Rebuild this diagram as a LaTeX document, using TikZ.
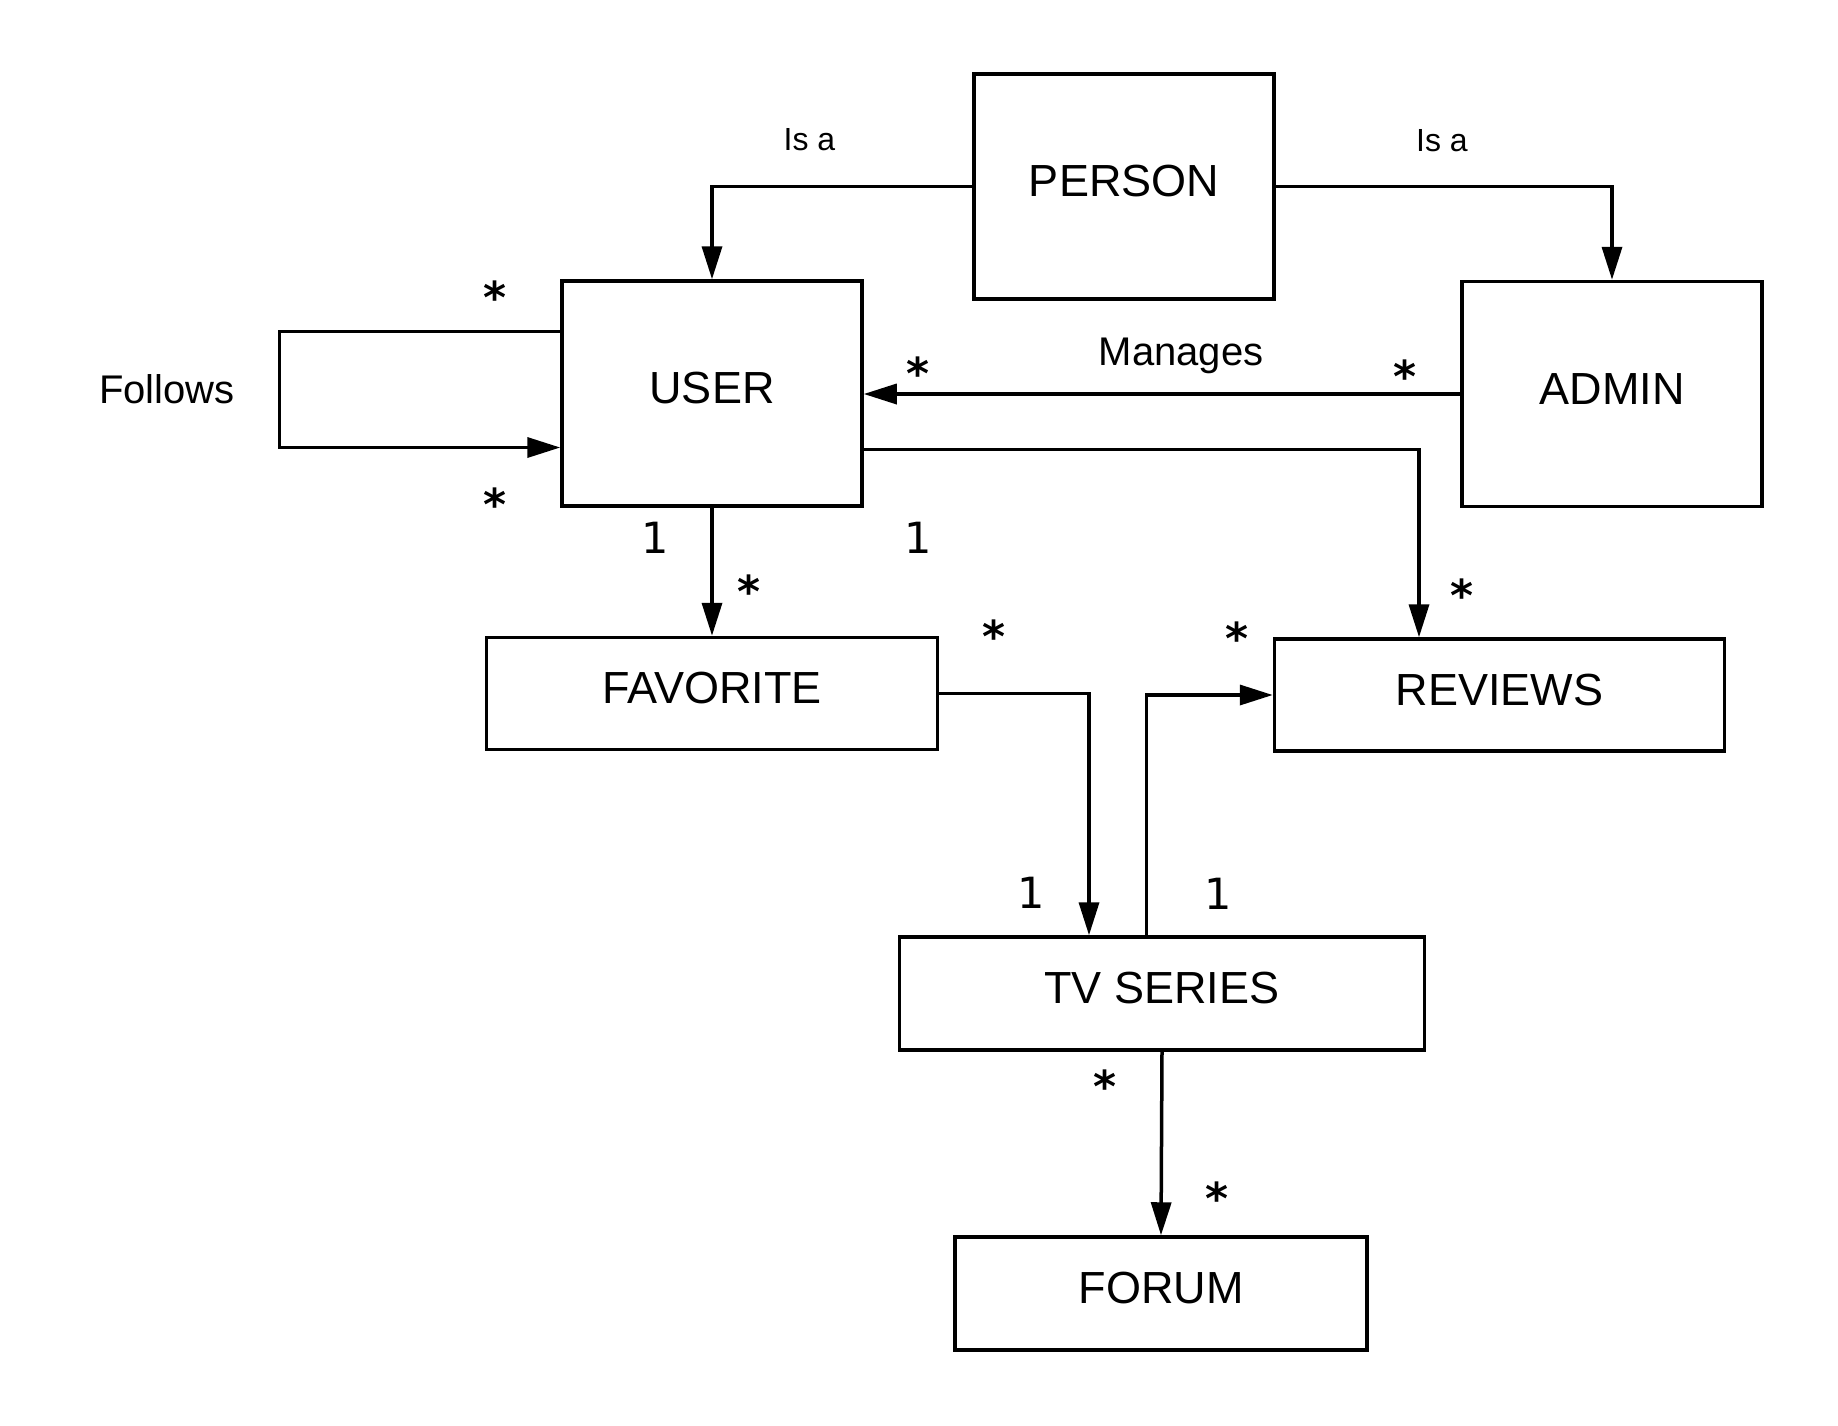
\documentclass[tikz,border=0pt]{standalone}
\usepackage{fontspec}
\setmainfont{Liberation Sans}
\newfontfamily\lblfont{DejaVu Sans}
\newfontfamily\starfont{DejaVu Sans Bold}
\usetikzlibrary{arrows.meta,calc}
\begin{document}
\begin{tikzpicture}[x=1pt,y=-1pt,
  box/.style={draw=black,line width=3.5pt,rectangle,inner sep=0pt,text height=32pt,text depth=12pt,font=\fontsize{45}{54}\selectfont},
  arr/.style={line width=3.5pt,-{Triangle[length=33pt,width=20pt]}},
  mult/.style={inner sep=0pt,anchor=base,font=\lblfont\fontsize{43}{50}\selectfont},
  star/.style={inner sep=0pt,anchor=base,font=\starfont\fontsize{44}{52}\selectfont},
  rel/.style={inner sep=0pt,anchor=base,font=\fontsize{40}{48}\selectfont},
  isa/.style={inner sep=0pt,anchor=base,font=\fontsize{32}{38}\selectfont}]
\useasboundingbox[fill=white] (0,0) rectangle (1838,1425);

\node[box,minimum width=300pt,minimum height=225pt] (person) at (1124,186.5) {PERSON};
\node[box,minimum width=300pt,minimum height=225pt] (user) at (712,393.5) {USER};
\node[box,minimum width=300pt,minimum height=225pt] (admin) at (1612,394) {ADMIN};
\node[box,minimum width=451pt,minimum height=112pt] (favorite) at (712,693.5) {FAVORITE};
\node[box,minimum width=450pt,minimum height=112pt] (reviews) at (1499.5,695) {REVIEWS};
\node[box,minimum width=525pt,minimum height=113pt] (tv) at (1162,993.5) {TV SERIES};
\node[box,minimum width=412pt,minimum height=113pt] (forum) at (1161,1293.5) {FORUM};

\draw[arr] (person.west) -| (user.north);
\draw[arr] (person.east) -| (admin.north);
\draw[arr] (admin.west) -- (admin.west -| user.east);
\draw[arr] ($(user.west)+(0,-62)$) -- ++(-281,0) |- ($(user.west)+(0,54)$);
\draw[arr] (user.south) -- (favorite.north);
\draw[arr] ($(user.east)+(0,56)$) -| ($(reviews.north)+(-80.5,0)$);
\draw[arr] (favorite.east) -| ($(tv.north)+(-73,0)$);
\draw[arr] ($(tv.north)+(-15.5,0)$) |- (reviews.west);
\draw[arr] (tv.south) -- (forum.north);

\node[isa] (isa1) at (809.5,150) {Is a};
\node[isa] (isa2) at (1442,151) {Is a};
\node[rel] (manages) at (1181,365) {Manages};
\node[rel] (follows) at (167,403) {Follows};

\node[star] (s1) at (495,313) {*};
\node[star] (s2) at (495,520) {*};
\node[star] (s3) at (749,607) {*};
\node[star] (s4) at (993.5,652) {*};
\node[star] (s5) at (1236.5,654) {*};
\node[star] (s6) at (1462,611) {*};
\node[star] (s7) at (1105,1102.5) {*};
\node[star] (s8) at (1217,1214) {*};
\node[star] (s9) at (918,389) {*};
\node[star] (s10) at (1405,392.5) {*};

\node[mult] (o1) at (655,553) {1};
\node[mult] (o2) at (918,553) {1};
\node[mult] (o3) at (1031.5,908) {1};
\node[mult] (o4) at (1218.5,909) {1};
\end{tikzpicture}
\end{document}
